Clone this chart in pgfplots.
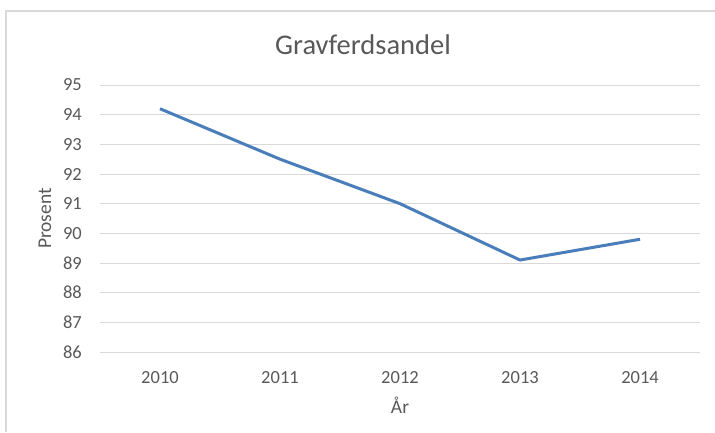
\documentclass[border=0pt]{standalone}
\usepackage{pgfplots}
\pgfplotsset{compat=1.18}
\usepackage{fontspec}
\setmainfont{Carlito}
\definecolor{gridc}{HTML}{D9D9D9}
\definecolor{txt}{HTML}{595959}
\definecolor{linec}{HTML}{4A7EBB}
\begin{document}
\begin{tikzpicture}[x=1pt,y=1pt]
\useasboundingbox (0,0) rectangle (715,432);
\draw[gridc,line width=1.2pt] (6,0) -- (6,421) -- (715,421);
\node[txt,font=\fontsize{28.5}{32}\selectfont] at (363,387) {Gravferdsandel};
\begin{axis}[
  at={(100pt,80pt)}, anchor=south west,
  scale only axis, width=600pt, height=267pt,
  xmin=-0.5, xmax=4.5, ymin=86, ymax=95,
  xtick={0,1,2,3,4}, xticklabels={2010,2011,2012,2013,2014},
  ytick={86,87,...,95},
  axis line style={draw=none},
  ymajorgrids, grid style={gridc, line width=0.8pt},
  tick style={draw=none},
  ticklabel style={txt, font=\fontsize{18.5}{22}\selectfont},
  /pgf/number format/assume math mode=true,
  yticklabel style={anchor=east, inner sep=0pt, xshift=-18pt},
  xticklabel style={anchor=center, inner sep=0pt, yshift=-26pt},
  xlabel={År}, ylabel={Prosent},
  label style={txt, font=\fontsize{19.5}{23}\selectfont},
  xlabel style={at={(axis description cs:0.5,0)}, anchor=center, yshift=-53pt},
  ylabel style={at={(axis description cs:0,0.5)}, anchor=center, yshift=55pt},
  clip=false,
]
\addplot[linec, line width=3pt, line join=round] coordinates {
  (0,94.2) (1,92.5) (2,91.0) (3,89.1) (4,89.8)
};
\end{axis}
\end{tikzpicture}
\end{document}
